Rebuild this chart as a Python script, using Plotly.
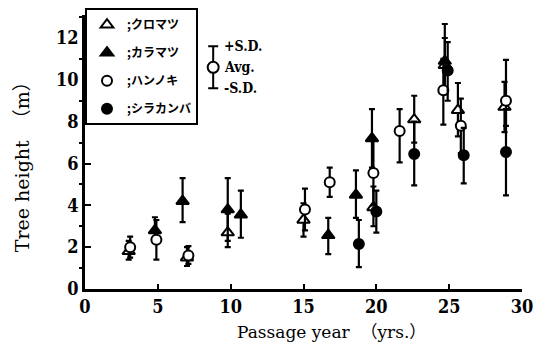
import plotly.graph_objects as go

# ---- data ----
# クロマツ (open triangle)
kuro_x = [3.0, 7.0, 9.8, 15.0, 19.8, 22.6, 24.7, 25.6, 28.8]
kuro_y = [1.8, 1.5, 2.7, 3.3, 3.9, 8.1, 10.7, 8.55, 8.7]
kuro_hi = [2.3, 2.0, 3.6, 4.1, 4.9, 9.24, 12.0, 9.85, 9.9]
kuro_lo = [1.4, 1.1, 2.0, 2.5, 3.0, 7.0, 9.3, 7.3, 7.5]

# カラマツ (filled triangle)
kara_x = [4.8, 6.7, 9.8, 10.7, 16.7, 18.6, 19.7, 24.7]
kara_y = [2.8, 4.2, 3.8, 3.55, 2.57, 4.5, 7.2, 10.9]
kara_hi = [3.43, 5.3, 5.3, 4.7, 3.4, 5.67, 8.6, 12.67]
kara_lo = [2.2, 3.2, 2.3, 2.45, 1.67, 3.4, 5.8, 9.5]

# ハンノキ (open circle)
han_x = [3.1, 4.9, 7.1, 15.1, 16.8, 19.8, 21.6, 24.6, 25.8, 28.9]
han_y = [2.0, 2.35, 1.6, 3.8, 5.1, 5.55, 7.55, 9.5, 7.8, 9.0]
han_hi = [2.5, 3.3, 2.05, 4.8, 5.8, 7.1, 8.6, 11.0, 9.1, 10.95]
han_lo = [1.5, 1.4, 1.2, 2.8, 4.4, 4.0, 6.05, 7.86, 6.5, 7.8]

# シラカンバ (filled circle)
shira_x = [18.8, 20.0, 22.6, 24.9, 26.0, 28.9]
shira_y = [2.15, 3.7, 6.45, 10.45, 6.4, 6.55]
shira_hi = [3.3, 4.7, 8.0, 11.8, 7.7, 8.6]
shira_lo = [1.05, 2.7, 4.95, 9.0, 5.05, 4.48]

x_ticks = [0, 5, 10, 15, 20, 25, 30]
y_ticks = [0, 2, 4, 6, 8, 10, 12]
legend_names = [";クロマツ", ";カラマツ", ";ハンノキ", ";シラカンバ"]

series = [
    (kuro_x, kuro_y, kuro_hi, kuro_lo, "triangle-up", "white", 11),
    (kara_x, kara_y, kara_hi, kara_lo, "triangle-up", "black", 11),
    (han_x, han_y, han_hi, han_lo, "circle", "white", 10),
    (shira_x, shira_y, shira_hi, shira_lo, "circle", "black", 10),
]

TICK_FONT = dict(family="DejaVu Serif Condensed, Liberation Serif, serif", size=18,
                 color="black", weight="bold")
TITLE_FONT = dict(family="DejaVu Serif, Noto Sans CJK JP, serif", size=17, color="black")

fig = go.Figure()
for i, (xs, ys, hi, lo, sym, fill, size) in enumerate(series):
    plus = [h - y for h, y in zip(hi, ys)]
    minus = [y - l for l, y in zip(lo, ys)]
    fig.add_trace(go.Scatter(
        x=xs, y=ys, mode="markers", name=legend_names[i],
        legendgroup=f"g{i}",
        marker=dict(symbol=sym, size=size, color=fill,
                    line=dict(color="black", width=2)),
        error_y=dict(type="data", symmetric=False, array=plus, arrayminus=minus,
                     color="black", thickness=2.2, width=3),
    ))

# S.D. key (legend illustration)
sd_key_x = [8.8]
sd_key_y = [10.6]
sd_key_err = [1.0]
fig.add_trace(go.Scatter(
    x=sd_key_x, y=sd_key_y, mode="markers", showlegend=False,
    marker=dict(symbol="circle", size=11, color="white", line=dict(color="black", width=2)),
    error_y=dict(type="data", array=sd_key_err, color="black", thickness=2, width=5),
))
for txt, yy in [("+S.D.", 11.6), ("Avg.", 10.6), ("-S.D.", 9.6)]:
    fig.add_annotation(x=9.4, y=yy, text=txt, showarrow=False, xanchor="left",
                       yanchor="middle",
                       font=dict(family="DejaVu Serif Condensed, Liberation Serif, serif",
                                 size=14, color="black", weight="bold"))

# axis titles
fig.add_annotation(xref="paper", yref="paper", x=0.565, y=-0.157,
                   text="Passage year  （yrs.）", showarrow=False,
                   xanchor="center", yanchor="middle", font=TITLE_FONT)
fig.add_annotation(xref="paper", yref="paper", x=-0.144, y=0.463,
                   text="Tree height  （m）", showarrow=False, textangle=-90,
                   xanchor="center", yanchor="middle",
                   font=dict(family="DejaVu Serif, Noto Sans CJK JP, serif", size=19, color="black"))

fig.update_layout(
    width=533, height=337,
    margin=dict(l=77, r=19, t=7, b=56, autoexpand=False),
    paper_bgcolor="white", plot_bgcolor="white",
    showlegend=True,
    legend=dict(x=0.0, y=1.025, xanchor="left", yanchor="top",
                bordercolor="black", borderwidth=2, bgcolor="white",
                font=dict(family="Noto Sans CJK JP", size=12, color="black", weight="bold"),
                tracegroupgap=9, itemwidth=30),
    xaxis=dict(range=[0, 30], tickvals=x_ticks, ticks="inside", ticklen=5, tickwidth=2,
               tickcolor="black", showline=True, linecolor="black", linewidth=2.5,
               showgrid=False, zeroline=False, tickfont=TICK_FONT),
    yaxis=dict(range=[0, 13.1], tickvals=y_ticks, ticks="inside", ticklen=6, tickwidth=2,
               tickcolor="black", showline=True, linecolor="black", linewidth=2.5,
               showgrid=False, zeroline=False,
               minor=dict(tickvals=[1, 3, 5, 7, 9, 11, 13], ticks="outside", ticklen=3,
                          tickcolor="black", tickwidth=1.5),
               tickfont=TICK_FONT),
)

fig.write_html("out.html")
